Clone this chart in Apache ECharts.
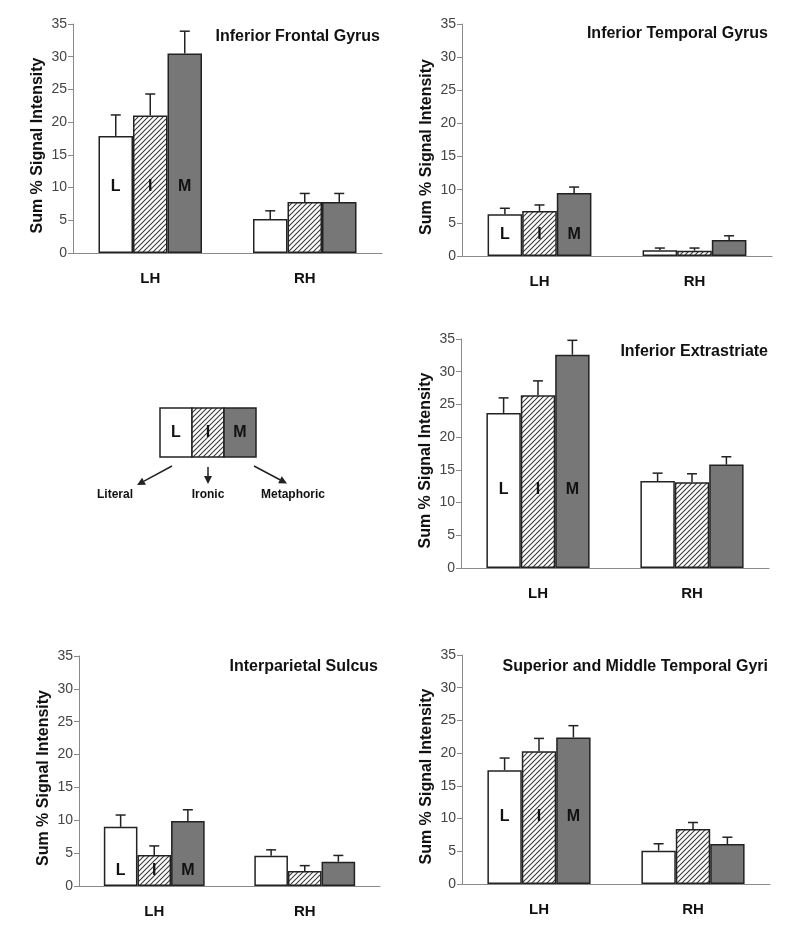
<!DOCTYPE html>
<html><head><meta charset="utf-8">
<script src="https://cdn.jsdelivr.net/npm/echarts@6/dist/echarts.min.js"></script>
<style>html,body{margin:0;padding:0;background:#fff}#c{width:800px;height:927px}</style>
</head><body><div id="c"></div><script>
// ---- data ----
const categories = ['LH', 'RH'];
const conditions = ['L', 'I', 'M'];
const conditionNames = ['Literal', 'Ironic', 'Metaphoric'];
const yMin = 0, yMax = 35, yStep = 5;
const panelTitles = ['Inferior Frontal Gyrus', 'Inferior Temporal Gyrus', 'Inferior Extrastriate', 'Interparietal Sulcus', 'Superior and Middle Temporal Gyri'];
// means: rows = L, I, M ; columns = LH, RH
const ifgMeans  = [[17.9, 5.2], [21.0, 7.8], [30.5, 7.8]];
const ifgErrors = [[3.2, 1.25], [3.3, 1.3], [3.4, 1.3]];
const itgMeans  = [[6.3, 0.85], [6.8, 0.8], [9.5, 2.4]];
const itgErrors = [[0.9, 0.35], [0.9, 0.4], [0.9, 0.65]];
const iesMeans  = [[23.7, 13.3], [26.4, 13.1], [32.6, 15.8]];
const iesErrors = [[2.3, 1.2], [2.2, 1.3], [2.2, 1.2]];
const ipsMeans  = [[9.0, 4.6], [4.7, 2.3], [9.9, 3.7]];
const ipsErrors = [[1.8, 0.9], [1.4, 0.8], [1.7, 0.95]];
const smtMeans  = [[17.4, 5.1], [20.3, 8.4], [22.4, 6.1]];
const smtErrors = [[1.85, 1.05], [1.95, 1.0], [1.8, 1.05]];
const panelMeans = [ifgMeans, itgMeans, iesMeans, ipsMeans, smtMeans];
const panelErrors = [ifgErrors, itgErrors, iesErrors, ipsErrors, smtErrors];

// ---- layout / style ----
const FONT = '"Liberation Sans", Arial, sans-serif';
const grids = [
  {left: 73, top: 24, width: 309, height: 229},
  {left: 462, top: 24, width: 310, height: 232},
  {left: 461, top: 339, width: 308, height: 229},
  {left: 79, top: 656, width: 301, height: 230},
  {left: 462, top: 655, width: 308, height: 229}
];
const titlePos = [
  {right: 420, top: 29}, {right: 32, top: 26}, {right: 32, top: 344},
  {right: 422, top: 659}, {right: 32, top: 659}
];
const labelDistance = [58, 13, 70, 7, 59];
const GAP = 0.33;

function hatchCanvas() {
  const s = 5, cv = document.createElement('canvas');
  cv.width = s; cv.height = s;
  const g = cv.getContext('2d');
  g.fillStyle = '#fff'; g.fillRect(0, 0, s, s);
  g.strokeStyle = '#3a3a3a'; g.lineWidth = 1.1;
  g.beginPath();
  g.moveTo(-1, s + 1); g.lineTo(s + 1, -1);
  g.moveTo(-1, 1); g.lineTo(1, -1);
  g.moveTo(s - 1, s + 1); g.lineTo(s + 1, s - 1);
  g.stroke();
  return cv;
}
const hatch = {image: hatchCanvas(), repeat: 'repeat'};
const fills = ['#ffffff', hatch, '#777777'];

const option = {
  animation: false,
  backgroundColor: '#fff',
  textStyle: {fontFamily: FONT},
  title: panelTitles.map((t, i) => ({
    text: t, right: titlePos[i].right, top: titlePos[i].top, padding: 0,
    textStyle: {fontFamily: FONT, fontSize: 16, fontWeight: 'bold', color: '#111'}
  })),
  grid: grids,
  xAxis: grids.map((g, i) => ({
    type: 'category', gridIndex: i, data: categories,
    axisLine: {lineStyle: {color: '#8a8a8a', width: 1}},
    axisTick: {show: false},
    axisLabel: {fontFamily: FONT, fontSize: 15, fontWeight: 'bold', color: '#111', margin: 18}
  })),
  yAxis: grids.map((g, i) => ({
    type: 'value', gridIndex: i, min: yMin, max: yMax, interval: yStep,
    name: 'Sum % Signal Intensity', nameLocation: 'middle', nameGap: 27,
    nameTextStyle: {fontFamily: FONT, fontSize: 16, fontWeight: 'bold', color: '#111', padding: [0, 14, 0, 0]},
    axisLine: {show: true, lineStyle: {color: '#8a8a8a', width: 1}},
    axisTick: {show: true, length: 5, lineStyle: {color: '#8a8a8a'}},
    splitLine: {show: false},
    axisLabel: {fontFamily: FONT, fontSize: 14, color: '#444', margin: 6}
  })),
  series: []
};

panelMeans.forEach((means, p) => {
  conditions.forEach((c, k) => {
    option.series.push({
      type: 'bar', name: conditionNames[k], xAxisIndex: p, yAxisIndex: p,
      barGap: 0, barCategoryGap: (GAP * 100) + '%',
      itemStyle: {color: fills[k], borderColor: '#222', borderWidth: 1.5},
      data: means[k].map((v, j) => j === 0 ? {
        value: v,
        label: {show: true, formatter: c, position: 'insideBottom', distance: labelDistance[p],
          fontFamily: FONT, fontSize: 16, fontWeight: 'bold', color: '#111'}
      } : v),
      z: 2
    });
  });
  const errData = [];
  categories.forEach((cat, j) => conditions.forEach((c, k) => {
    errData.push([j, k, means[k][j], means[k][j] + panelErrors[p][k][j]]);
  }));
  option.series.push({
    type: 'custom', xAxisIndex: p, yAxisIndex: p, z: 3,
    encode: {x: 0, y: [2, 3]},
    data: errData,
    renderItem: (params, api) => {
      const base = api.coord([api.value(0), api.value(2)]);
      const top = api.coord([api.value(0), api.value(3)]);
      const band = api.size([1, 0])[0];
      const bw = band * (1 - GAP) / 3;
      const x = base[0] + (api.value(1) - 1) * bw;
      const st = {stroke: '#222', lineWidth: 1.5};
      return {type: 'group', children: [
        {type: 'line', shape: {x1: x, y1: base[1], x2: x, y2: top[1]}, style: st},
        {type: 'line', shape: {x1: x - 5, y1: top[1], x2: x + 5, y2: top[1]}, style: st}
      ]};
    }
  });
});

// ---- key (legend drawing) ----
const keyBox = {x: 160, y: 408, w: 96, h: 49};
const keyEls = [];
conditions.forEach((c, k) => {
  const w = keyBox.w / 3;
  keyEls.push({type: 'rect', shape: {x: keyBox.x + k * w, y: keyBox.y, width: w, height: keyBox.h},
    style: {fill: fills[k], stroke: '#222', lineWidth: 1.5}});
  keyEls.push({type: 'text', x: keyBox.x + k * w + w / 2, y: keyBox.y + keyBox.h / 2,
    style: {text: c, font: 'bold 16px ' + FONT, fill: '#111', align: 'center', verticalAlign: 'middle'}});
});
const arrows = [[172, 466, 137, 485], [208, 467, 208, 484], [254, 466, 287, 483.5]];
const keyLabelX = [115, 208, 293];
arrows.forEach((a, k) => {
  const [x1, y1, x2, y2] = a;
  const dx = x2 - x1, dy = y2 - y1, L = Math.hypot(dx, dy), ux = dx / L, uy = dy / L;
  const hl = 8, hw = 4;
  const bx = x2 - ux * hl, by = y2 - uy * hl;
  keyEls.push({type: 'line', shape: {x1, y1, x2: bx, y2: by}, style: {stroke: '#222', lineWidth: 1.5}});
  keyEls.push({type: 'polygon', shape: {points: [[x2, y2], [bx - uy * hw, by + ux * hw], [bx + uy * hw, by - ux * hw]]},
    style: {fill: '#222'}});
  keyEls.push({type: 'text', x: keyLabelX[k], y: 495,
    style: {text: conditionNames[k], font: 'bold 12px ' + FONT, fill: '#111', align: 'center', verticalAlign: 'middle'}});
});
option.graphic = keyEls;

const chart = echarts.init(document.getElementById('c'), null, {renderer: 'canvas'});
chart.setOption(option);
</script></body></html>
